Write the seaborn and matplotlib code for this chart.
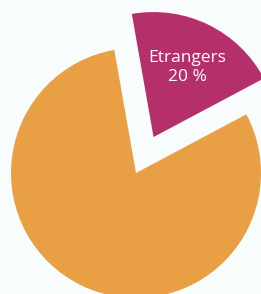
import matplotlib
matplotlib.use("Agg")
import matplotlib.pyplot as plt
import seaborn as sns

categories = ["Etrangers", "Français"]
values = [20, 80]
show_label = [True, False]
colors = ["#B5306B", "#E9A045"]

sns.set_style("white")
plt.rcParams['font.family'] = ['Open Sans', 'DejaVu Sans']

bg = "#F8FCFD"
fig = plt.figure(figsize=(2.61, 2.94), dpi=100, facecolor=bg)
ax = fig.add_axes([0, 0, 1, 1])
ax.set_facecolor(bg)

labels = [f"{c}\n{v} %" if s else "" for c, v, s in zip(categories, values, show_label)]
ax.pie(values, labels=labels, colors=colors, startangle=28, counterclock=True,
       explode=[0.32, 0], labeldistance=0.62, radius=1,
       wedgeprops=dict(linewidth=0),
       textprops=dict(color="white", fontsize=12.5, ha="center", va="center", linespacing=1.25))

ax.set_xlim(-1.088, 1.0)
ax.set_ylim(-0.968, 1.384)
ax.set_aspect("equal")
ax.axis("off")
fig.savefig("out.png", dpi=100, facecolor=bg)
